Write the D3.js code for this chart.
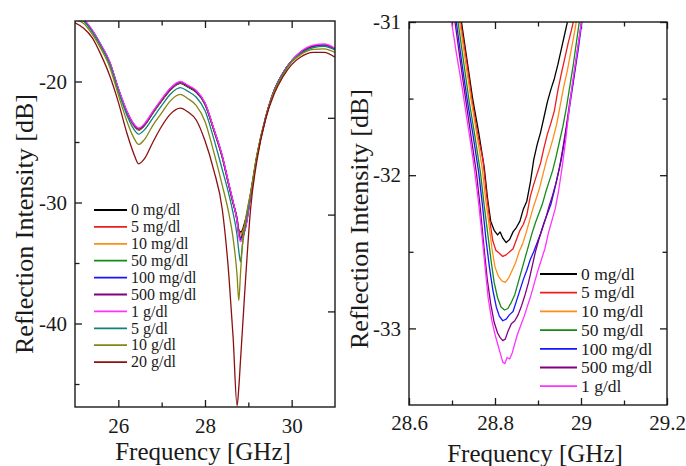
<!DOCTYPE html>
<meta charset="utf-8">
<title>Reflection intensity vs frequency</title>
<style>
body { margin: 0; background: #fff; }
svg text { font-family: "Liberation Serif", "Times New Roman", serif; fill: #1a1a1a; }
</style>
<body>
<script src="https://d3js.org/d3.v7.min.js"></script>
<script>

// legend labels and colours, shared order for both panels
let names = ["0 mg/dl", "5 mg/dl", "10 mg/dl", "50 mg/dl", "100 mg/dl", "500 mg/dl",
             "1 g/dl", "5 g/dl", "10 g/dl", "20 g/dl"];
let colors = ["#000000", "#ee1c1c", "#ff8c1a", "#178a17", "#1515ff", "#800080",
              "#ff33ff", "#118080", "#858511", "#8b1010"];

// left panel: wide sweep, 25-31 GHz
let freqL = [25.0, 25.2, 25.4, 25.6, 25.8, 26.0, 26.2, 26.35, 26.47, 26.6, 26.8, 27.0, 27.2, 27.43,
             27.6, 27.8, 28.0, 28.2, 28.4, 28.55, 28.65, 28.74, 28.78, 28.82, 28.86, 28.9, 28.95,
             29.05, 29.2, 29.4, 29.6, 29.8, 30.0, 30.2, 30.5, 30.75, 31.0];

let l0mg   = [-14.55,-14.95,-15.85,-17.05,-18.45,-20.65,-22.55,-23.6,-24.0,-23.65,-22.6,-21.6,-20.7,-20.15,-20.45,-20.9,-21.9,-24.0,-26.3,-28.6,-30.1,-31.3,-32.25,-32.43,-32.3,-31.85,-31.2,-29.3,-26.1,-22.95,-20.7,-19.3,-18.3,-17.6,-17.1,-17.0,-17.35];
let l5mg   = [-14.55,-14.95,-15.85,-17.05,-18.45,-20.65,-22.55,-23.6,-24.0,-23.65,-22.6,-21.6,-20.7,-20.1,-20.4,-20.85,-21.85,-23.95,-26.25,-28.55,-30.05,-31.35,-32.3,-32.53,-32.42,-32.0,-31.35,-29.4,-26.15,-22.95,-20.7,-19.3,-18.3,-17.6,-17.1,-16.95,-17.3];
let l10mg  = [-14.55,-14.95,-15.85,-17.05,-18.45,-20.65,-22.55,-23.6,-23.95,-23.6,-22.55,-21.55,-20.65,-20.1,-20.4,-20.85,-21.85,-23.95,-26.25,-28.55,-30.05,-31.4,-32.4,-32.7,-32.5,-32.15,-31.5,-29.4,-26.15,-22.95,-20.7,-19.3,-18.3,-17.65,-17.1,-17.0,-17.35];
let l50mg  = [-14.55,-14.95,-15.85,-17.05,-18.45,-20.65,-22.55,-23.55,-23.95,-23.6,-22.55,-21.55,-20.65,-20.1,-20.4,-20.85,-21.85,-23.95,-26.25,-28.55,-30.05,-31.45,-32.5,-32.88,-32.65,-32.3,-31.7,-29.45,-26.2,-23.0,-20.7,-19.3,-18.3,-17.65,-17.1,-17.0,-17.35];
let l100mg = [-14.5,-14.9,-15.8,-17.0,-18.4,-20.6,-22.5,-23.5,-23.9,-23.55,-22.5,-21.5,-20.6,-20.05,-20.35,-20.8,-21.8,-23.9,-26.2,-28.5,-30.0,-31.5,-32.6,-32.95,-32.75,-32.45,-31.8,-29.5,-26.2,-23.0,-20.7,-19.3,-18.3,-17.6,-17.05,-16.95,-17.3];
let l500mg = [-14.5,-14.9,-15.8,-17.0,-18.4,-20.6,-22.5,-23.5,-23.9,-23.55,-22.5,-21.5,-20.6,-20.05,-20.35,-20.8,-21.8,-23.9,-26.2,-28.5,-30.0,-31.5,-32.65,-33.08,-32.85,-32.5,-31.85,-29.5,-26.2,-23.0,-20.7,-19.3,-18.3,-17.6,-17.05,-16.95,-17.3];
let l1g    = [-14.45,-14.85,-15.75,-16.95,-18.35,-20.55,-22.45,-23.45,-23.85,-23.5,-22.45,-21.45,-20.55,-20.0,-20.3,-20.75,-21.75,-23.85,-26.15,-28.45,-29.95,-31.55,-32.75,-33.23,-32.95,-32.6,-31.9,-29.5,-26.2,-23.0,-20.7,-19.3,-18.3,-17.55,-17.0,-16.9,-17.25];
let l5g    = [-14.7,-15.0,-15.9,-17.1,-18.55,-20.8,-22.8,-23.9,-24.35,-24.0,-23.0,-22.0,-21.05,-20.5,-20.8,-21.3,-22.4,-24.7,-27.3,-29.3,-30.9,-32.7,-34.0,-34.9,-33.6,-32.6,-31.5,-29.4,-26.1,-23.0,-20.75,-19.35,-18.35,-17.7,-17.2,-17.1,-17.4];
let l10g   = [-14.9,-15.2,-16.1,-17.3,-18.8,-21.1,-23.3,-24.6,-25.2,-24.8,-23.6,-22.6,-21.6,-21.07,-21.4,-22.0,-23.3,-25.8,-28.6,-30.9,-33.0,-36.0,-38.1,-35.8,-33.7,-32.3,-31.1,-29.2,-26.0,-23.0,-20.8,-19.45,-18.4,-17.8,-17.35,-17.3,-17.6];
let l20g   = [-15.15,-15.6,-16.4,-17.8,-19.5,-21.7,-24.3,-25.9,-26.8,-26.4,-25.0,-23.7,-22.7,-22.2,-22.5,-23.2,-24.9,-27.3,-30.6,-36.0,-41.2,-46.8,-45.3,-43.0,-40.7,-38.4,-35.6,-30.6,-26.5,-23.1,-21.0,-19.6,-18.6,-18.0,-17.6,-17.6,-18.0];

let leftSeries = [l0mg, l5mg, l10mg, l50mg, l100mg, l500mg, l1g, l5g, l10g, l20g];

// right panel: zoom on the notch, [GHz, dB]
let r0mg = [[28.715,-30.88],[28.722,-31.0],[28.735,-31.25],[28.748,-31.5],[28.762,-31.72],[28.775,-31.95],[28.783,-32.16],[28.79,-32.3],[28.798,-32.36],[28.806,-32.39],[28.812,-32.37],[28.818,-32.41],[28.826,-32.44],[28.834,-32.42],[28.842,-32.37],[28.85,-32.34],[28.858,-32.3],[28.866,-32.22],[28.874,-32.17],[28.882,-32.05],[28.89,-31.9],[28.898,-31.8],[28.906,-31.72],[28.914,-31.62],[28.922,-31.52],[28.93,-31.44],[28.938,-31.37],[28.946,-31.28],[28.954,-31.18],[28.962,-31.08],[28.97,-30.98],[28.978,-30.88]];
let r5mg = [[28.713,-30.86],[28.72,-31.0],[28.733,-31.24],[28.746,-31.5],[28.759,-31.72],[28.772,-31.9],[28.78,-32.12],[28.788,-32.3],[28.795,-32.43],[28.802,-32.49],[28.81,-32.51],[28.818,-32.53],[28.826,-32.52],[28.834,-32.5],[28.842,-32.48],[28.85,-32.42],[28.858,-32.36],[28.866,-32.32],[28.874,-32.26],[28.882,-32.14],[28.89,-32.06],[28.898,-31.99],[28.906,-31.92],[28.914,-31.82],[28.922,-31.73],[28.93,-31.66],[28.938,-31.58],[28.946,-31.45],[28.954,-31.34],[28.962,-31.24],[28.97,-31.14],[28.978,-31.05],[28.986,-30.95],[28.994,-30.85]];
let r10mg = [[28.711,-30.86],[28.718,-31.0],[28.731,-31.25],[28.744,-31.5],[28.757,-31.72],[28.77,-31.95],[28.778,-32.15],[28.786,-32.32],[28.793,-32.48],[28.8,-32.6],[28.808,-32.66],[28.816,-32.69],[28.824,-32.7],[28.832,-32.67],[28.84,-32.62],[28.848,-32.57],[28.856,-32.5],[28.864,-32.45],[28.872,-32.38],[28.88,-32.3],[28.888,-32.22],[28.896,-32.15],[28.904,-32.08],[28.912,-31.99],[28.92,-31.9],[28.928,-31.83],[28.936,-31.75],[28.944,-31.66],[28.952,-31.54],[28.96,-31.42],[28.968,-31.32],[28.976,-31.2],[28.984,-31.08],[28.992,-30.95],[29.0,-30.82]];
let r50mg = [[28.707,-30.86],[28.714,-31.0],[28.727,-31.26],[28.74,-31.52],[28.753,-31.74],[28.766,-31.98],[28.775,-32.2],[28.783,-32.38],[28.791,-32.56],[28.798,-32.7],[28.806,-32.8],[28.814,-32.86],[28.822,-32.88],[28.83,-32.87],[28.838,-32.83],[28.846,-32.78],[28.854,-32.7],[28.862,-32.62],[28.87,-32.54],[28.878,-32.46],[28.886,-32.38],[28.894,-32.31],[28.902,-32.25],[28.91,-32.19],[28.918,-32.11],[28.926,-32.04],[28.934,-31.97],[28.942,-31.88],[28.95,-31.78],[28.958,-31.68],[28.966,-31.56],[28.974,-31.42],[28.982,-31.28],[28.99,-31.12],[28.998,-30.96],[29.006,-30.82]];
let r100mg = [[28.704,-30.86],[28.71,-31.0],[28.723,-31.27],[28.736,-31.52],[28.749,-31.74],[28.762,-31.98],[28.771,-32.2],[28.779,-32.42],[28.787,-32.6],[28.795,-32.75],[28.803,-32.86],[28.81,-32.92],[28.818,-32.95],[28.826,-32.94],[28.834,-32.91],[28.842,-32.89],[28.85,-32.82],[28.858,-32.75],[28.866,-32.68],[28.874,-32.62],[28.882,-32.55],[28.89,-32.5],[28.898,-32.44],[28.906,-32.38],[28.914,-32.31],[28.922,-32.25],[28.93,-32.19],[28.938,-32.1],[28.946,-32.0],[28.954,-31.9],[28.962,-31.77],[28.97,-31.62],[28.978,-31.47],[28.986,-31.32],[28.994,-31.17],[29.002,-31.0],[29.01,-30.86]];
let r500mg = [[28.701,-30.86],[28.707,-31.0],[28.72,-31.27],[28.733,-31.53],[28.745,-31.76],[28.757,-31.99],[28.766,-32.22],[28.774,-32.46],[28.782,-32.68],[28.79,-32.84],[28.798,-32.96],[28.806,-33.03],[28.812,-33.06],[28.818,-33.08],[28.824,-33.07],[28.83,-33.02],[28.838,-32.97],[28.846,-32.95],[28.854,-32.91],[28.862,-32.85],[28.87,-32.78],[28.878,-32.7],[28.886,-32.6],[28.894,-32.5],[28.902,-32.42],[28.91,-32.35],[28.918,-32.28],[28.926,-32.2],[28.934,-32.13],[28.942,-32.05],[28.95,-31.95],[28.958,-31.82],[28.966,-31.68],[28.974,-31.52],[28.982,-31.38],[28.99,-31.22],[28.998,-31.06],[29.006,-30.9]];
let r1g = [[28.694,-30.88],[28.699,-31.0],[28.71,-31.2],[28.722,-31.4],[28.734,-31.62],[28.745,-31.82],[28.753,-31.98],[28.761,-32.16],[28.769,-32.37],[28.777,-32.6],[28.784,-32.8],[28.792,-32.94],[28.8,-33.04],[28.806,-33.1],[28.812,-33.16],[28.818,-33.22],[28.823,-33.23],[28.828,-33.19],[28.834,-33.2],[28.84,-33.16],[28.846,-33.1],[28.852,-33.04],[28.86,-32.98],[28.868,-32.92],[28.876,-32.85],[28.884,-32.78],[28.892,-32.7],[28.9,-32.62],[28.908,-32.55],[28.916,-32.48],[28.924,-32.38],[28.932,-32.3],[28.94,-32.22],[28.948,-32.1],[28.956,-31.95],[28.964,-31.78],[28.972,-31.58],[28.98,-31.4],[28.988,-31.25],[28.996,-31.1],[29.004,-30.95]];

let rightSeries = [r0mg, r5mg, r10mg, r50mg, r100mg, r500mg, r1g];

// tick values
let xTicksL = [26, 28, 30], xMinorL = [27, 29];
let yTicksL = [-20, -30, -40], yMinorL = [-25, -35, -45];
let yTicksLRight = [-23, -31, -39];
let xTicksR = [28.6, 28.8, 29, 29.2], xMinorR = [28.7, 28.9, 29.1];
let yTicksR = [-31, -32, -33], yMinorR = [-31.5, -32.5];

let width = 686, height = 466;

let svg = d3.select('body').append('svg')
    .attr('width', width)
    .attr('height', height);

let xL = d3.scaleLinear().domain([25, 31]).range([75, 335]);
let yL = d3.scaleLinear().domain([-46.9, -15]).range([407, 21]);
let xR = d3.scaleLinear().domain([28.6, 29.2]).range([409, 667]);
let yR = d3.scaleLinear().domain([-33.5, -31]).range([405, 22]);

let fmt = d => String(d);
let major = 7, minor = 4.5;

function panel(id, x, y, o) {
    let g = svg.append('g').attr('class', id);
    let [x0, x1] = x.range();
    let [y1, y0] = y.range();

    g.append('clipPath').attr('id', 'clip-' + id)
        .append('rect')
            .attr('x', x0).attr('y', y0)
            .attr('width', x1 - x0).attr('height', y1 - y0);

    // inward ticks on all four sides
    let ax = (axis, tr, size, pad, labels) => {
        let a = g.append('g').attr('transform', tr)
            .call(axis.tickSize(-size).tickPadding(pad).tickFormat(labels ? fmt : ''));
        a.select('.domain').remove();
        a.selectAll('line').attr('stroke', '#1a1a1a').attr('stroke-width', 1.3);
        a.selectAll('text').style('font-size', '21px').attr('fill', '#1a1a1a')
            .style('font-family', '"Liberation Serif", serif');
        return a;
    };
    ax(d3.axisBottom(x).tickValues(o.xMajor), `translate(0,${y1})`, major, o.xPad, true);
    ax(d3.axisBottom(x).tickValues(o.xMinor), `translate(0,${y1})`, minor, 0, false);
    ax(d3.axisTop(x).tickValues(o.xMajor), `translate(0,${y0})`, major, 0, false);
    ax(d3.axisTop(x).tickValues(o.xMinor), `translate(0,${y0})`, minor, 0, false);
    ax(d3.axisLeft(y).tickValues(o.yMajor), `translate(${x0},0)`, major, 8, true);
    ax(d3.axisLeft(y).tickValues(o.yMinor), `translate(${x0},0)`, minor, 0, false);
    ax(d3.axisRight(y).tickValues(o.yRight), `translate(${x1},0)`, major, 0, false);
    if (o.yRightMinor) ax(d3.axisRight(y).tickValues(o.yRightMinor), `translate(${x1},0)`, minor, 0, false);

    let plot = g.append('g').attr('clip-path', `url(#clip-${id})`);
    plot.selectAll('path.curve')
        .data(o.series)
        .enter().append('path')
            .attr('class', 'curve')
            .attr('d', o.line)
            .attr('fill', 'none')
            .attr('stroke', (d, i) => colors[i])
            .attr('stroke-width', 1.3)
            .attr('stroke-linejoin', 'round');

    g.append('rect')
        .attr('x', x0).attr('y', y0)
        .attr('width', x1 - x0).attr('height', y1 - y0)
        .attr('fill', 'none')
        .attr('stroke', '#1a1a1a')
        .attr('stroke-width', 1.4);

    g.append('text')
        .attr('transform', `translate(${o.yTitle[0]},${o.yTitle[1]})rotate(-90)`)
        .attr('text-anchor', 'middle')
        .style('font-size', '26px')
        .text('Reflection Intensity [dB]');

    g.append('text')
        .attr('x', o.xTitle[0]).attr('y', o.xTitle[1])
        .attr('text-anchor', 'middle')
        .style('font-size', '25px')
        .text('Frequency [GHz]');

    let leg = g.append('g').attr('class', 'legend')
        .attr('transform', `translate(${o.leg.x},${o.leg.y})`);
    let row = leg.selectAll('g')
        .data(o.series.map((d, i) => names[i]))
        .enter().append('g')
            .attr('transform', (d, i) => `translate(0,${i * o.leg.step})`);
    row.append('line')
        .attr('x1', 0).attr('x2', o.leg.len)
        .attr('stroke', (d, i) => colors[i])
        .attr('stroke-width', 1.8);
    row.append('text')
        .attr('x', o.leg.len + 4)
        .attr('dy', '0.33em')
        .style('font-size', o.leg.font)
        .text(d => d);
}

panel('left', xL, yL, {
    xMajor: xTicksL, xMinor: xMinorL, yMajor: yTicksL, yMinor: yMinorL,
    yRight: yTicksLRight, xPad: 11,
    series: leftSeries,
    line: d3.line().x((d, i) => xL(freqL[i])).y(d => yL(d)).curve(d3.curveMonotoneX),
    yTitle: [33, 224], xTitle: [203, 460],
    leg: { x: 94, y: 210, step: 16.9, len: 33, font: '16px' }
});

panel('right', xR, yR, {
    xMajor: xTicksR, xMinor: xMinorR, yMajor: yTicksR, yMinor: yMinorR,
    yRight: yTicksR, yRightMinor: yMinorR, xPad: 10,
    series: rightSeries,
    line: d3.line().x(d => xR(d[0])).y(d => yR(d[1])),
    yTitle: [368, 219], xTitle: [535, 462],
    leg: { x: 540, y: 274, step: 18.7, len: 37, font: '17.5px' }
});

</script>
</body>
